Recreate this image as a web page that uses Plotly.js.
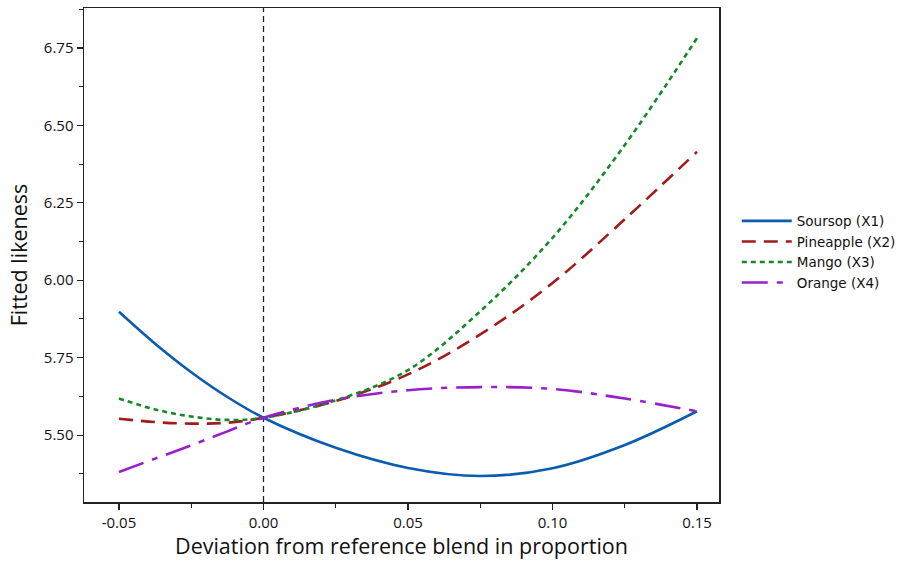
<!DOCTYPE html>
<html>
<head>
<meta charset="utf-8">
<script src="https://cdn.plot.ly/plotly-3.0.1.min.js"></script>
<style>html,body{margin:0;padding:0;background:#fff;}#chart{width:907px;height:563px;}</style>
</head>
<body>
<div id="chart"></div>
<script>
var deviation = [-0.05, -0.0375, -0.025, -0.0125, 0, 0.025, 0.05, 0.075, 0.1, 0.125, 0.15];
var soursop   = [5.898, 5.795, 5.703, 5.623, 5.556, 5.459, 5.394, 5.368, 5.393, 5.468, 5.577];
var pineapple = [5.553, 5.542, 5.537, 5.540, 5.556, 5.610, 5.696, 5.825, 5.991, 6.197, 6.415];
var mango     = [5.618, 5.583, 5.560, 5.549, 5.556, 5.612, 5.710, 5.900, 6.137, 6.437, 6.782];
var orange    = [5.381, 5.424, 5.467, 5.512, 5.556, 5.614, 5.645, 5.655, 5.649, 5.618, 5.577];
var seriesNames = ["Soursop (X1)", "Pineapple (X2)", "Mango (X3)", "Orange (X4)"];
var xTickVals = [-0.05, 0, 0.05, 0.1, 0.15];
var xTickText = ["-0.05", "0.00", "0.05", "0.10", "0.15"];
var yTickVals = [5.5, 5.75, 6.0, 6.25, 6.5, 6.75];
var yTickText = ["5.50", "5.75", "6.00", "6.25", "6.50", "6.75"];
var refLine = [0];

var font = "'Open Sans', 'Noto Sans', sans-serif";
function tr(y, name, color, dash) {
  return {x: deviation, y: y, name: name, type: 'scatter', mode: 'lines',
    line: {color: color, width: 2.6, dash: dash, shape: 'spline', smoothing: 1}};
}
var data = [
  tr(soursop, seriesNames[0], '#0a5cb0', 'solid'),
  tr(pineapple, seriesNames[1], '#a11b1b', '14px,8px'),
  tr(mango, seriesNames[2], '#14882a', '5px,4px'),
  tr(orange, seriesNames[3], '#9a1fcc', '26px,9px,6px,9px')
];
var layout = {
  width: 907, height: 563,
  margin: {l: 84, r: 188, t: 8, b: 61, autoexpand: false},
  paper_bgcolor: '#fff', plot_bgcolor: '#fff',
  font: {family: font, color: '#111', size: 15},
  showlegend: true,
  legend: {x: 1.028, xanchor: 'left', y: 0.6, yanchor: 'top',
    font: {family: "'DejaVu Sans', sans-serif", size: 13.5, color: '#111'},
    tracegroupgap: 0, itemwidth: 50, bgcolor: 'rgba(0,0,0,0)'},
  xaxis: {range: [-0.0621, 0.1576], tickvals: xTickVals, ticktext: xTickText,
    showgrid: false, zeroline: false, showline: true, mirror: true, linecolor: '#222', linewidth: 1.5,
    ticks: 'outside', ticklen: 6, tickwidth: 1.2, tickcolor: '#222',
    minor: {dtick: 0.025, tick0: 0, ticks: 'outside', ticklen: 4, tickwidth: 1, tickcolor: '#222', showgrid: false},
    tickfont: {size: 15},
    title: {text: 'Deviation from reference blend in proportion', font: {size: 21.5}, standoff: 6}},
  yaxis: {range: [5.284, 6.879], tickvals: yTickVals, ticktext: yTickText,
    showgrid: false, zeroline: false, showline: true, mirror: true, linecolor: '#222', linewidth: 1.5,
    ticks: 'outside', ticklen: 6, tickwidth: 1.2, tickcolor: '#222',
    minor: {dtick: 0.125, tick0: 5.5, ticks: 'outside', ticklen: 4, tickwidth: 1, tickcolor: '#222', showgrid: false},
    tickfont: {size: 15},
    title: {text: 'Fitted likeness', font: {size: 21.5}, standoff: 10}},
  shapes: refLine.map(function (v) {
    return {type: 'line', xref: 'x', yref: 'paper', x0: v, x1: v, y0: 0, y1: 1,
      line: {color: '#222', width: 1.3, dash: '6px,4px'}, layer: 'below'};
  })
};
Plotly.newPlot('chart', data, layout, {displayModeBar: false, staticPlot: true});
</script>
</body>
</html>
